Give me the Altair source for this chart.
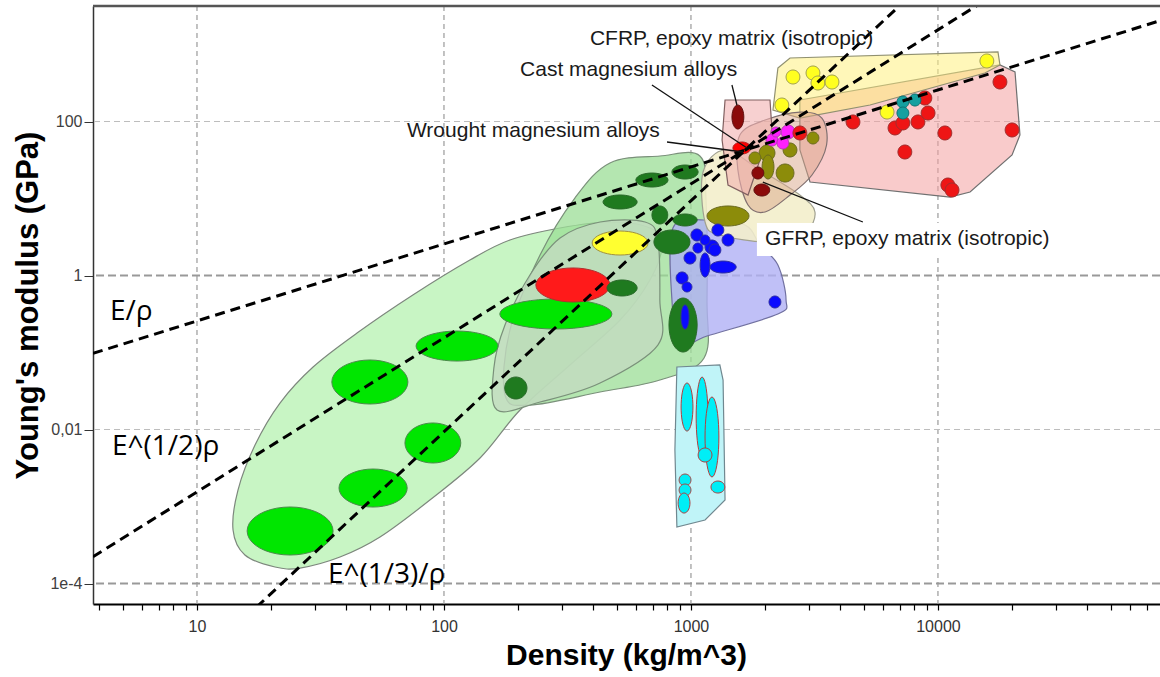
import altair as alt
import numpy as np
import pandas as pd

# ---------------- axes (log10 of the visible range) ----------------
LOG_RHO_RANGE = [0.579, 4.899]
LOG_E_RANGE = [-4.266, 3.5]
x_tick_values = [m * 10 ** k for k in range(0, 5) for m in range(1, 10) if 3.8 <= m * 10 ** k <= 79000]
x_label_values = [10, 100, 1000, 10000]
y_tick_values = [0.0001, 0.01, 1, 100]
y_tick_labels = ["1e-4", "0,01", "1", "100"]
x_grid = [10, 100, 1000, 10000]
y_grid_light = [0.01, 100]
y_grid_dark = [0.0001, 1]

# ---------------- index lines: log E = n * log rho + c ----------------
index_slopes = [1, 2, 3]
index_intercepts = [-1.59, -4.81, -8.03]
index_labels = ["E/ρ", "E^(1/2)ρ", "E^(1/3)/ρ"]
index_label_log_rho = [0.648, 0.656, 1.530]
index_label_log_E = [-0.578, -2.331, -3.994]

# ---------------- envelopes (log10 density, log10 modulus) ----------------
foam_env_log_rho = [1.146, 1.194, 1.316, 1.417, 1.579, 1.741, 1.943, 2.146, 2.308, 2.510, 2.713, 2.834,
                    2.883, 2.834, 2.672, 2.470, 2.267, 2.105, 1.874, 1.648, 1.470, 1.336, 1.235, 1.166]
foam_env_log_E = [-3.305, -3.630, -3.786, -3.799, -3.656, -3.396, -2.916, -2.370, -1.747, -1.162, -0.578, -0.058,
                  0.396, 0.617, 0.695, 0.617, 0.461, 0.201, -0.253, -0.747, -1.188, -1.656, -2.201, -2.786]
natural_env_log_rho = [2.247, 2.267, 2.389, 2.530, 2.672, 2.874, 3.036, 3.061, 3.065, 3.053, 2.874, 2.632, 2.348]
natural_env_log_E = [-1.552, -0.708, 0.266, 1.006, 1.461, 1.552, 1.552, 0.981, -0.318, -1.071, -1.357, -1.513, -1.682]
wood_env_log_rho = [2.215, 2.202, 2.247, 2.348, 2.470, 2.632, 2.814, 2.866, 2.874, 2.866, 2.632, 2.389]
wood_env_log_E = [-1.747, -1.201, -0.643, 0.006, 0.487, 0.695, 0.695, 0.461, -0.318, -0.903, -1.396, -1.643]
polymer_env_log_rho = [2.927, 3.057, 3.219, 3.279, 3.352, 3.385, 3.352, 3.065, 2.955, 2.923]
polymer_env_log_E = [0.617, 0.721, 0.656, 0.396, 0.136, -0.318, -0.500, -0.786, -0.903, -0.318]
elastomer_env_log_rho = [2.943, 3.117, 3.130, 3.138, 3.057, 2.943, 2.935]
elastomer_env_log_E = [-1.188, -1.162, -1.357, -2.916, -3.175, -3.266, -2.266]
gfrp_env_log_rho = [3.049, 3.138, 3.279, 3.441, 3.502, 3.462, 3.320, 3.117, 3.057]
gfrp_env_log_E = [1.344, 1.630, 1.370, 1.045, 0.825, 0.565, 0.435, 0.526, 0.695]
metal_env_log_rho = [3.441, 4.251, 4.312, 4.332, 4.300, 4.130, 4.049, 3.482, 3.441]
metal_env_log_E = [2.279, 2.734, 2.643, 1.825, 1.565, 1.084, 1.019, 1.214, 1.630]
cfrp_env_log_rho = [3.352, 3.401, 4.243, 4.251, 4.190, 3.725, 3.441, 3.332]
cfrp_env_log_E = [2.695, 2.825, 2.903, 2.734, 2.630, 2.214, 2.045, 2.149]
composite_env_log_rho = [3.198, 3.300, 3.441, 3.530, 3.549, 3.490, 3.401, 3.300, 3.231, 3.190]
composite_env_log_E = [1.825, 2.019, 2.123, 2.045, 1.695, 1.305, 1.045, 0.825, 0.916, 1.370]
mg_env_log_rho = [3.138, 3.320, 3.328, 3.279, 3.231, 3.150, 3.126]
mg_env_log_E = [2.279, 2.279, 1.890, 1.500, 1.045, 1.175, 1.760]

# ---------------- material bubbles: centre and half range (log10) ----------------
foam_log_rho = [1.377, 1.713, 1.955, 1.700, 2.053, 2.453]
foam_log_E = [-3.318, -2.760, -2.175, -1.383, -0.916, -0.500]
foam_rho_half = [0.174, 0.138, 0.113, 0.154, 0.166, 0.227]
foam_E_half = [0.312, 0.247, 0.260, 0.286, 0.195, 0.195]

wood_yellow_log_rho, wood_yellow_log_E, wood_yellow_rho_half, wood_yellow_E_half = [2.713], [0.422], [0.113], [0.156]
wood_red_log_rho, wood_red_log_E, wood_red_rho_half, wood_red_E_half = [2.522], [-0.123], [0.150], [0.221]

dkgreen_log_rho = [2.842, 2.976, 2.713, 2.874, 2.976, 2.923, 2.721, 2.968, 2.291]
dkgreen_log_E = [1.240, 1.344, 0.955, 0.786, 0.721, 0.435, -0.162, -0.643, -1.461]
dkgreen_rho_half = [0.065, 0.053, 0.069, 0.032, 0.049, 0.073, 0.061, 0.057, 0.045]
dkgreen_E_half = [0.091, 0.091, 0.091, 0.117, 0.078, 0.156, 0.104, 0.351, 0.143]

olive_log_rho = [3.150, 3.308, 3.401, 3.381, 3.312, 3.494, 3.259]
olive_log_E = [0.773, 1.591, 1.630, 1.331, 1.409, 1.786, 1.526]
olive_rho_half = [0.085, 0.032, 0.028, 0.036, 0.024, 0.024, 0.024]
olive_E_half = [0.130, 0.104, 0.091, 0.117, 0.156, 0.078, 0.078]

dkred_log_rho = [3.190, 3.271, 3.287]
dkred_log_E = [2.058, 1.331, 1.110]
dkred_rho_half = [0.024, 0.024, 0.032]
dkred_E_half = [0.156, 0.078, 0.078]

mg_red_log_rho, mg_red_log_E, mg_red_rho_half, mg_red_E_half = [3.206], [1.656], [0.036], [0.078]

magenta_log_rho = [3.328, 3.393, 3.372, 3.344]
magenta_log_E = [1.760, 1.864, 1.721, 1.864]
magenta_rho_half = [0.024, 0.028, 0.024, 0.020]
magenta_E_half = [0.078, 0.091, 0.078, 0.065]

blue_log_rho = [3.024, 3.109, 3.150, 3.085, 2.996, 3.057, 3.130, 2.964, 2.984, 3.340, 2.976, 3.097, 3.057, 3.028]
blue_log_E = [0.526, 0.591, 0.461, 0.370, 0.227, 0.136, 0.110, -0.032, -0.149, -0.344, -0.539, 0.331, 0.461, 0.357]
blue_rho_half = [0.024, 0.024, 0.024, 0.028, 0.024, 0.020, 0.053, 0.024, 0.020, 0.024, 0.016, 0.024, 0.020, 0.020]
blue_E_half = [0.078, 0.078, 0.078, 0.091, 0.078, 0.156, 0.078, 0.078, 0.065, 0.078, 0.156, 0.078, 0.065, 0.065]

cyan_log_rho = [2.984, 3.045, 3.085, 3.057, 3.109, 2.976, 2.976, 2.972]
cyan_log_E = [-1.708, -1.838, -2.097, -2.331, -2.747, -2.656, -2.786, -2.955]
cyan_rho_half = [0.024, 0.024, 0.028, 0.028, 0.028, 0.024, 0.024, 0.024]
cyan_E_half = [0.312, 0.519, 0.519, 0.091, 0.078, 0.078, 0.078, 0.130]

ydot_log_rho = [3.413, 3.494, 3.514, 3.571, 3.368, 3.794, 4.198]
ydot_log_E = [2.578, 2.630, 2.500, 2.513, 2.214, 2.123, 2.786]

rdot_log_rho = [4.251, 3.947, 3.656, 3.826, 3.858, 3.919, 3.960, 4.028, 4.300, 3.866, 4.040, 4.057, 3.441]
rdot_log_E = [2.513, 2.305, 1.994, 1.916, 1.981, 1.994, 2.110, 1.851, 1.890, 1.604, 1.175, 1.110, 1.851]

teal_log_rho = [3.858, 3.907, 3.858]
teal_log_E = [2.253, 2.279, 2.110]

# ---------------- annotations ----------------
annot_texts = ["CFRP, epoxy matrix (isotropic)", "Cast magnesium alloys",
               "Wrought magnesium alloys", "GFRP, epoxy matrix (isotropic)"]
annot_log_rho = [2.591, 2.308, 1.850, 3.300]
annot_log_E = [2.994, 2.591, 1.799, 0.396]
leader_log_rho = [[2.842, 3.227], [2.903, 3.211], [3.166, 3.186], [3.291, 3.696]]
leader_log_E = [[2.474, 1.656], [1.734, 1.604], [2.474, 2.214], [1.214, 0.695]]
gfrp_box_log_rho = [3.267, 4.453]
gfrp_box_log_E = [0.253, 0.682]

# =================================================================
x_scale = alt.Scale(type="log", domain=[10 ** LOG_RHO_RANGE[0], 10 ** LOG_RHO_RANGE[1]], nice=False)
y_scale = alt.Scale(type="log", domain=[10 ** LOG_E_RANGE[0], 10 ** LOG_E_RANGE[1]], nice=False)

x_label_expr = " || ".join(f"datum.value == {v}" for v in x_label_values)
x_axis = alt.Axis(values=x_tick_values, labelExpr=f"({x_label_expr}) ? datum.value + '' : ''",
                  grid=False, tickSize=6, tickColor="#000", tickWidth=1.2, domainColor="#000",
                  domainWidth=2, labelPadding=8, labelFontSize=16, labelColor="#333",
                  labelFont="Liberation Sans", labelOverlap=False, labelFlush=False,
                  title="Density (kg/m^3)", titleFont="Liberation Sans", titleFontSize=30,
                  titleFontWeight="bold", titleColor="#000", titleX=533, titleY=51,
                  titleBaseline="middle", titleAlign="center")
y_expr = "".join(f"datum.value == {v} ? '{l}' : " for v, l in zip(y_tick_values, y_tick_labels)) + "''"
y_axis = alt.Axis(values=y_tick_values, labelExpr=y_expr, grid=False, tickSize=9, tickColor="#333",
                  domainColor="#333", domainWidth=1.5, labelPadding=2, labelFontSize=16,
                  labelColor="#404040", labelFont="Liberation Sans", labelOverlap=False,
                  labelFlush=False, title="Young's modulus (GPa)", titleFont="Liberation Sans",
                  titleFontSize=31, titleFontWeight="bold", titleColor="#000", titleX=-65,
                  titleY=299, titleAngle=270, titleBaseline="middle", titleAlign="center")

X = alt.X("rho:Q", scale=x_scale, axis=x_axis)
Y = alt.Y("E:Q", scale=y_scale, axis=y_axis)


def poly_df(lr, le):
    return pd.DataFrame({"rho": 10 ** np.array(lr), "E": 10 ** np.array(le),
                         "i": np.arange(len(lr)), "id": 0})


def ellipse_df(lr, le, hr, he, n=40):
    t = np.linspace(0, 2 * np.pi, n, endpoint=False)
    if not isinstance(hr, list):
        hr = [hr] * len(lr)
    if not isinstance(he, list):
        he = [he] * len(lr)
    frames = []
    for k in range(len(lr)):
        frames.append(pd.DataFrame({"rho": 10 ** (lr[k] + hr[k] * np.cos(t)),
                                    "E": 10 ** (le[k] + he[k] * np.sin(t)),
                                    "i": np.arange(n), "id": k}))
    return pd.concat(frames, ignore_index=True)


def shape(df, fill, stroke, sw=1.0, fop=1.0, interp="linear-closed"):
    return alt.Chart(df).mark_line(fill=fill, fillOpacity=fop, stroke=stroke, strokeWidth=sw,
                                   interpolate=interp, clip=True).encode(
        x=X, y=Y, detail="id:N", order="i:Q")


# ---- grid ----
vgrid = alt.Chart(pd.DataFrame({"rho": x_grid})).mark_rule(
    color="#9a9a9a", strokeWidth=1.2, strokeDash=[5, 4]).encode(x=X)
hgrid_dark = alt.Chart(pd.DataFrame({"E": y_grid_dark})).mark_rule(
    color="#999999", strokeWidth=2, strokeDash=[8, 4]).encode(y=Y)
hgrid_light = alt.Chart(pd.DataFrame({"E": y_grid_light})).mark_rule(
    color="#bdbdbd", strokeWidth=1.2, strokeDash=[6, 4]).encode(y=Y)
top_border = alt.Chart(pd.DataFrame({"E": [10 ** LOG_E_RANGE[1]]})).mark_rule(
    color="#555", strokeWidth=2.5).encode(y=Y)

# ---- envelopes ----
env_layers = [
    shape(poly_df(foam_env_log_rho, foam_env_log_E), "#c8f5c4", "#7d877d", 1.2, 1.0, "cardinal-closed"),
    shape(poly_df(natural_env_log_rho, natural_env_log_E), "#9bde96", "#7a907a", 1.2, 0.75, "cardinal-closed"),
    shape(poly_df(wood_env_log_rho, wood_env_log_E), "#c3dbc0", "#7a907a", 1.2, 0.8, "cardinal-closed"),
    shape(poly_df(polymer_env_log_rho, polymer_env_log_E), "#b0b0f5", "#7070a0", 1.2, 0.8, "cardinal-closed"),
    shape(poly_df(elastomer_env_log_rho, elastomer_env_log_E), "#c0f4f8", "#708890", 1.2, 1.0),
    shape(poly_df(gfrp_env_log_rho, gfrp_env_log_E), "#f3eecb", "#a0a090", 1.2, 0.9, "cardinal-closed"),
    shape(poly_df(metal_env_log_rho, metal_env_log_E), "#f4a0a0", "#707070", 1.2, 0.55),
    shape(poly_df(cfrp_env_log_rho, cfrp_env_log_E), "#fff080", "#909070", 1.2, 0.55),
    shape(poly_df(composite_env_log_rho, composite_env_log_E), "#d9a58a", "#807070", 1.2, 0.5, "cardinal-closed"),
    shape(poly_df(mg_env_log_rho, mg_env_log_E), "#f2b0b0", "#806060", 1.2, 0.6),
]

# ---- bubbles ----
bub_layers = [
    shape(ellipse_df(foam_log_rho, foam_log_E, foam_rho_half, foam_E_half), "#00e600", "#4a8a4a", 1.0),
    shape(ellipse_df(wood_yellow_log_rho, wood_yellow_log_E, wood_yellow_rho_half, wood_yellow_E_half), "#ffff30", "#a09040", 1.0),
    shape(ellipse_df(wood_red_log_rho, wood_red_log_E, wood_red_rho_half, wood_red_E_half), "#ff1a1a", "#b03030", 1.0),
    shape(ellipse_df(dkgreen_log_rho, dkgreen_log_E, dkgreen_rho_half, dkgreen_E_half), "#1f7a1f", "#2a6a2a", 1.0),
    shape(ellipse_df(olive_log_rho, olive_log_E, olive_rho_half, olive_E_half), "#8c8c0a", "#6a6a20", 1.0),
    shape(ellipse_df(dkred_log_rho, dkred_log_E, dkred_rho_half, dkred_E_half), "#8b0a0a", "#601010", 1.0),
    shape(ellipse_df(mg_red_log_rho, mg_red_log_E, mg_red_rho_half, mg_red_E_half), "#ff0000", "#b02020", 1.0),
    shape(ellipse_df(magenta_log_rho, magenta_log_E, magenta_rho_half, magenta_E_half), "#ff20ff", "#b040b0", 1.0),
    shape(ellipse_df(blue_log_rho, blue_log_E, blue_rho_half, blue_E_half), "#0a0aff", "#3030a0", 1.0),
    shape(ellipse_df(cyan_log_rho, cyan_log_E, cyan_rho_half, cyan_E_half), "#00eef6", "#b04040", 1.0),
    shape(ellipse_df(ydot_log_rho, ydot_log_E, 0.028, 0.091), "#ffff20", "#a0a050", 1.0),
    shape(ellipse_df(rdot_log_rho, rdot_log_E, 0.028, 0.091), "#ee1515", "#a03030", 1.0),
    shape(ellipse_df(teal_log_rho, teal_log_E, 0.024, 0.078), "#15a0a0", "#107070", 1.0),
]

# ---- index lines ----
idx_rows = []
for k, (n, c) in enumerate(zip(index_slopes, index_intercepts)):
    for j, u in enumerate(LOG_RHO_RANGE):
        idx_rows.append({"id": k, "i": j, "rho": 10 ** u, "E": 10 ** (n * u + c)})
index_lines = alt.Chart(pd.DataFrame(idx_rows)).mark_line(
    color="#000", strokeWidth=3, strokeDash=[10, 6], clip=True).encode(x=X, y=Y, detail="id:N", order="i:Q")

index_text = alt.Chart(pd.DataFrame({"rho": 10 ** np.array(index_label_log_rho),
                                     "E": 10 ** np.array(index_label_log_E),
                                     "t": index_labels})).mark_text(
    align="left", baseline="alphabetic", font="Open Sans", fontSize=28, color="#000").encode(x=X, y=Y, text="t:N")

# ---- leaders, box, annotation text ----
lead_rows = []
for k, (lr, le) in enumerate(zip(leader_log_rho, leader_log_E)):
    for j in range(2):
        lead_rows.append({"id": k, "i": j, "rho": 10 ** lr[j], "E": 10 ** le[j]})
leaders = alt.Chart(pd.DataFrame(lead_rows)).mark_line(color="#111", strokeWidth=1.3).encode(
    x=X, y=Y, detail="id:N", order="i:Q")

box = alt.Chart(pd.DataFrame({"rho": [10 ** gfrp_box_log_rho[0]], "rho2": [10 ** gfrp_box_log_rho[1]],
                              "E": [10 ** gfrp_box_log_E[0]], "E2": [10 ** gfrp_box_log_E[1]]})).mark_rect(
    color="white").encode(x=X, x2="rho2", y=Y, y2="E2")

annot = alt.Chart(pd.DataFrame({"rho": 10 ** np.array(annot_log_rho), "E": 10 ** np.array(annot_log_E),
                                "t": annot_texts})).mark_text(
    align="left", baseline="alphabetic", font="Liberation Sans", fontSize=21, color="#1a1a1a").encode(
    x=X, y=Y, text="t:N")

chart = alt.layer(
    vgrid, hgrid_dark, hgrid_light,
    *env_layers, *bub_layers,
    index_lines, index_text, leaders, box, annot, top_border,
).properties(
    width=1067, height=598,
    autosize=alt.AutoSizeParams(type="none"),
    padding={"left": 93, "top": 6, "right": 0, "bottom": 73},
    background="white",
).configure_view(stroke=None)

chart.save("out.html", embed_options={"renderer": "svg", "actions": False})
